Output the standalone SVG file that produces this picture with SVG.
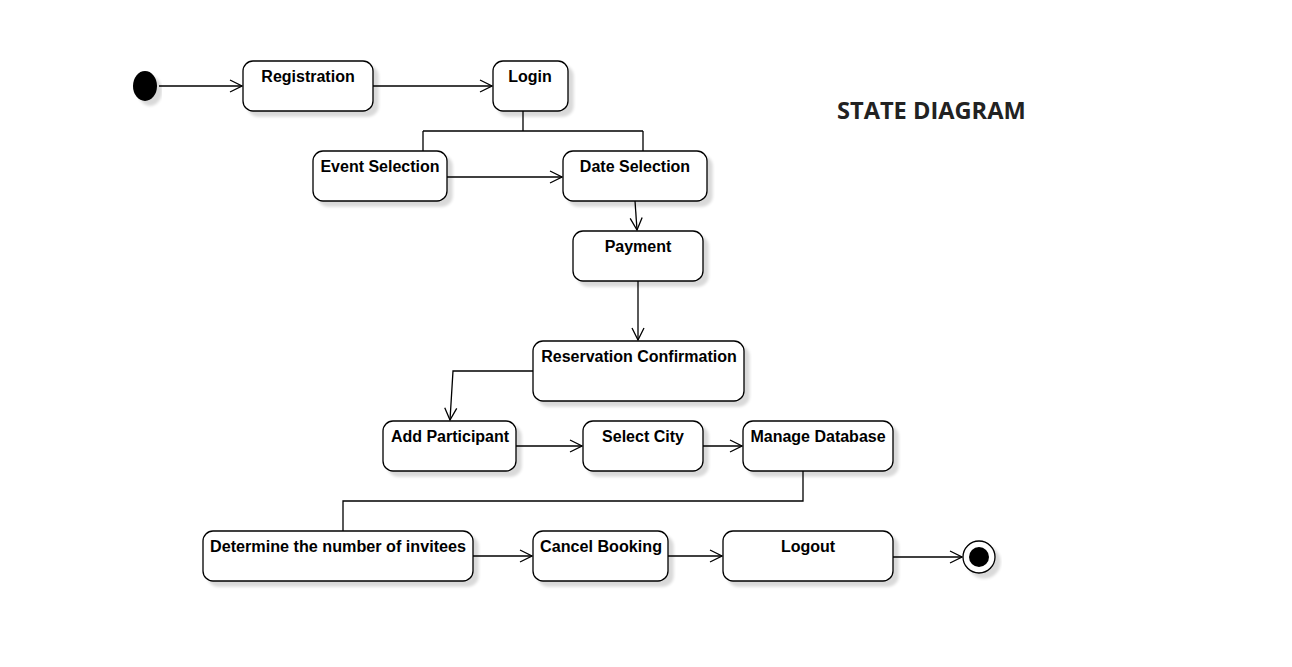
<svg xmlns="http://www.w3.org/2000/svg" width="1292" height="667" viewBox="0 0 1292 667">
<style>
.box{fill:#ffffff;stroke:#000000;stroke-width:1.3;filter:url(#sh)}
.lbl{font-family:"Liberation Sans",Arial,sans-serif;font-weight:bold;font-size:16px;fill:#000;text-anchor:middle}
.ln{fill:none;stroke:#000;stroke-width:1.3}
.title{font-family:"Open Sans","Liberation Sans",sans-serif;font-weight:bold;font-size:23.6px;fill:#222}
</style>
<defs>
<filter id="sh" x="-20%" y="-20%" width="140%" height="160%">
<feGaussianBlur in="SourceAlpha" stdDeviation="1.5"/>
<feOffset dx="5" dy="5" result="b"/>
<feComponentTransfer><feFuncA type="linear" slope="0.15"/></feComponentTransfer>
<feMerge><feMergeNode/><feMergeNode in="SourceGraphic"/></feMerge>
</filter>
<marker id="arr" markerWidth="14" markerHeight="14" refX="13" refY="7" orient="auto" markerUnits="userSpaceOnUse">
<path d="M1,1 L13,7 L1,13" fill="none" stroke="#000" stroke-width="1.3"/>
</marker>
</defs>
<rect width="1292" height="667" fill="#ffffff"/>

<g id="connectors">
<path class="ln" d="M159,86 L242,86" marker-end="url(#arr)"/>
<path class="ln" d="M373,86 L492,86" marker-end="url(#arr)"/>
<path class="ln" d="M523,111 L523,131 M423,131 L643,131 M423,131 L423,151 M643,131 L643,151"/>
<path class="ln" d="M447,177 L562,177" marker-end="url(#arr)"/>
<path class="ln" d="M635,201 L637,230" marker-end="url(#arr)"/>
<path class="ln" d="M638,281 L638,340" marker-end="url(#arr)"/>
<path class="ln" d="M533,371 L453,371 L450,420" marker-end="url(#arr)"/>
<path class="ln" d="M516,446 L582,446" marker-end="url(#arr)"/>
<path class="ln" d="M703,446 L742,446" marker-end="url(#arr)"/>
<path class="ln" d="M803,471 L803,501 L343,501 L343,531"/>
<path class="ln" d="M473,556 L532,556" marker-end="url(#arr)"/>
<path class="ln" d="M668,556 L722,556" marker-end="url(#arr)"/>
<path class="ln" d="M893,557 L962,557" marker-end="url(#arr)"/>
</g>

<g id="start"><ellipse cx="145" cy="86" rx="12" ry="15" fill="#000" filter="url(#sh)"/></g>

<g id="registration"><rect class="box" x="243" y="61" width="130" height="50" rx="10"/><text class="lbl" x="308" y="82">Registration</text></g>
<g id="login"><rect class="box" x="493" y="61" width="75" height="50" rx="10"/><text class="lbl" x="530" y="82">Login</text></g>
<g id="event-selection"><rect class="box" x="313" y="151" width="134" height="50" rx="10"/><text class="lbl" x="380" y="172">Event Selection</text></g>
<g id="date-selection"><rect class="box" x="563" y="151" width="144" height="50" rx="10"/><text class="lbl" x="635" y="172">Date Selection</text></g>
<g id="payment"><rect class="box" x="573" y="231" width="130" height="50" rx="10"/><text class="lbl" x="638" y="252">Payment</text></g>
<g id="reservation-confirmation"><rect class="box" x="533" y="341" width="211" height="60" rx="10"/><text class="lbl" x="639" y="362">Reservation Confirmation</text></g>
<g id="add-participant"><rect class="box" x="383" y="421" width="133" height="50" rx="10"/><text class="lbl" x="450" y="442">Add Participant</text></g>
<g id="select-city"><rect class="box" x="583" y="421" width="120" height="50" rx="10"/><text class="lbl" x="643" y="442">Select City</text></g>
<g id="manage-database"><rect class="box" x="743" y="421" width="150" height="50" rx="10"/><text class="lbl" x="818" y="442">Manage Database</text></g>
<g id="determine-invitees"><rect class="box" x="203" y="531" width="270" height="50" rx="10"/><text class="lbl" x="338" y="552" textLength="256" lengthAdjust="spacingAndGlyphs">Determine the number of invitees</text></g>
<g id="cancel-booking"><rect class="box" x="533" y="531" width="135" height="50" rx="10"/><text class="lbl" x="601" y="552" textLength="122" lengthAdjust="spacingAndGlyphs">Cancel Booking</text></g>
<g id="logout"><rect class="box" x="723" y="531" width="170" height="50" rx="10"/><text class="lbl" x="808" y="552">Logout</text></g>

<g id="end"><circle cx="979" cy="557" r="16" fill="#fff" stroke="#000" stroke-width="1.3" filter="url(#sh)"/><circle cx="979" cy="557" r="10" fill="#000"/></g>

<text class="title" x="837" y="119">STATE DIAGRAM</text>
</svg>
